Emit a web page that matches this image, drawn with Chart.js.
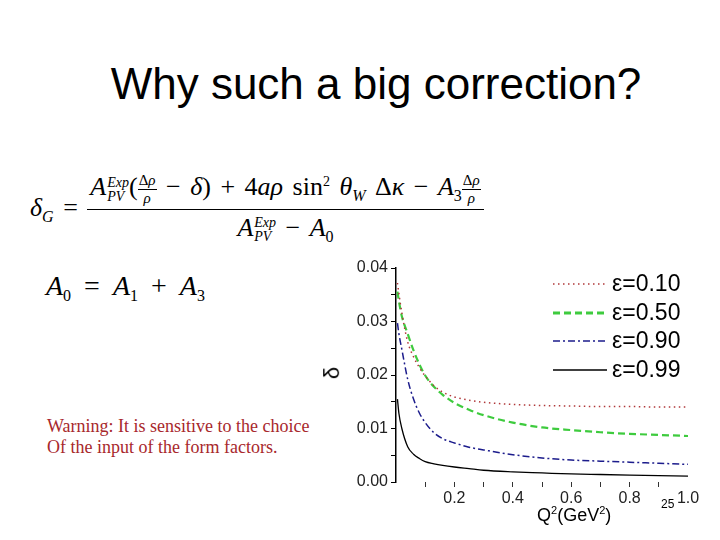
<!DOCTYPE html>
<html>
<head>
<meta charset="utf-8">
<script src="https://cdn.jsdelivr.net/npm/chart.js@4/dist/chart.umd.min.js"></script>
<style>
  body { margin: 0; background: #fff; }
  #slide { position: relative; width: 720px; height: 540px; overflow: hidden; background: #fff; }
  .abs { position: absolute; white-space: nowrap; }
  #title { left: 0; width: 752px; top: 59px; text-align: center; font: 44px "Liberation Sans", Arial, sans-serif; color: #000; }
  .math { font-family: "Liberation Serif", "Times New Roman", serif; font-size: 26px; color: #000; }
  .math i { font-style: italic; }
  .frac { display: inline-flex; flex-direction: column; align-items: center; vertical-align: middle; }
  .frac > .num { border-bottom: 1px solid #000; padding: 0 3px 2px 3px; }
  .frac > .den { padding-top: 3px; }
  .sfrac { font-size: 15px; word-spacing: 0; }
  .sfrac > .num { padding: 0 1px 0 1px; }
  .sfrac > .den { padding-top: 0; }
  .ss { display: inline-flex; flex-direction: column; font-size: 14px; line-height: 14px; vertical-align: middle; margin-left: 1px; }
  .sub { font-size: 16px; vertical-align: -6px; }
  #warn { left: 47px; top: 416px; font: 18px/21px "Liberation Serif", "Times New Roman", serif; color: #a8282c; }
  #ylab { left: 326px; top: 360px; font: 22px "Liberation Sans", Arial, sans-serif; transform: rotate(-90deg); }
  #xlab { left: 537px; top: 504px; font: 18px "Liberation Sans", Arial, sans-serif; }
  #xlab sup { font-size: 11px; vertical-align: 7px; }
  #pg { left: 661px; top: 497px; font: 12px "Liberation Sans", Arial, sans-serif; }
  #chartbox { position: absolute; left: 320px; top: 255px; width: 400px; height: 285px; }
</style>
</head>
<body>
<div id="slide">
  <div id="title" class="abs">Why such a big correction?</div>

  <div class="abs math" style="left:30px; top:172px; word-spacing:3px;">
    <span style="vertical-align:middle"><i>δ</i><span class="sub"><i>G</i></span> =</span>
    <span class="frac">
      <span class="num"><i>A</i><span class="ss"><i>Exp</i><i>PV</i></span>(<span class="frac sfrac"><span class="num">Δ<i>ρ</i></span><span class="den"><i>ρ</i></span></span> − <i>δ</i>) + 4<i>aρ</i> sin<sup style="font-size:14px">2</sup> <i>θ</i><span class="sub"><i>W</i></span> Δ<i>κ</i> − <i>A</i><span class="sub">3</span><span class="frac sfrac"><span class="num">Δ<i>ρ</i></span><span class="den"><i>ρ</i></span></span></span>
      <span class="den"><i>A</i><span class="ss"><i>Exp</i><i>PV</i></span> − <i>A</i><span class="sub">0</span></span>
    </span>
  </div>

  <div class="abs math" style="left:46px; top:270px; font-size:28px; word-spacing:6px;"><i>A</i><span class="sub">0</span> = <i>A</i><span class="sub">1</span> + <i>A</i><span class="sub">3</span></div>

  <div id="warn" class="abs">Warning: It is sensitive to the choice<br>Of the input of the form factors.</div>

  <div id="chartbox"><canvas id="deltaChart" width="400" height="285"></canvas></div>

  <div id="ylab" class="abs">δ</div>
  <div id="xlab" class="abs">Q<sup>2</sup>(GeV<sup>2</sup>)</div>
  <div id="pg" class="abs">25</div>
</div>

<script>
// Q^2 values (GeV^2) sampled along the curves
const q2 = [0.005, 0.01, 0.02, 0.04, 0.06, 0.08, 0.1, 0.13, 0.16, 0.2, 0.25, 0.3, 0.4, 0.5, 0.6, 0.7, 0.8, 0.9, 1.0];
// delta for each epsilon
const eps010 = [0.0372, 0.0352, 0.0316, 0.0262, 0.0234, 0.0214, 0.0198, 0.0180, 0.0168, 0.0159, 0.0153, 0.0149, 0.0145, 0.0143, 0.0142, 0.0141, 0.0141, 0.0140, 0.0140];
const eps050 = [0.0356, 0.0338, 0.0310, 0.0277, 0.0246, 0.0220, 0.0199, 0.0178, 0.0163, 0.0148, 0.0135, 0.0125, 0.0111, 0.0102, 0.0097, 0.0093, 0.0090, 0.0088, 0.0086];
const eps090 = [0.0297, 0.0277, 0.0248, 0.0192, 0.0155, 0.0129, 0.0111, 0.0092, 0.0081, 0.0073, 0.0065, 0.0060, 0.0051, 0.0045, 0.0041, 0.0039, 0.0037, 0.0035, 0.0033];
const eps099 = [0.0155, 0.0128, 0.0100, 0.0066, 0.0052, 0.0044, 0.0038, 0.0034, 0.0031, 0.0028, 0.0025, 0.0022, 0.0019, 0.0017, 0.0015, 0.0014, 0.0013, 0.0012, 0.0011];
const seriesLabels = ['ε=0.10', 'ε=0.50', 'ε=0.90', 'ε=0.99'];
const xTickLabels = [0.2, 0.4, 0.6, 0.8, 1.0];
const yTickLabels = [0.00, 0.01, 0.02, 0.03, 0.04];

const lineColors = ['#b0383a', '#3ecb3e', '#1c1c8c', '#000000'];
const lineDashes = [[1.5, 3.5], [7, 4], [7, 3, 2, 3], []];
const lineWidths = [1.5, 2.2, 1.5, 1.3];

const toPoints = (ys) => q2.map((x, i) => ({ x: x, y: ys[i] }));

const datasets = [eps010, eps050, eps090, eps099].map((ys, i) => ({
    label: seriesLabels[i],
    data: toPoints(ys),
    borderColor: lineColors[i],
    borderDash: lineDashes[i],
    borderWidth: lineWidths[i],
    pointRadius: 0,
    fill: false,
    cubicInterpolationMode: 'monotone',
}));

// legend drawn in the upper right of the plot, like the original
const legendPlugin = {
    id: 'cornerLegend',
    afterDraw(chart) {
        const ctx = chart.ctx;
        const area = chart.chartArea;
        const rowY = [29, 58, 86, 115];
        ctx.save();
        chart.data.datasets.forEach((ds, i) => {
            const y = rowY[i];
            ctx.beginPath();
            ctx.setLineDash(ds.borderDash);
            ctx.lineWidth = i === 1 ? 3 : ds.borderWidth;
            ctx.strokeStyle = ds.borderColor;
            ctx.moveTo(area.right - 135, y);
            ctx.lineTo(area.right - 81, y);
            ctx.stroke();
            ctx.setLineDash([]);
            ctx.fillStyle = '#000';
            ctx.font = '23px "Liberation Sans", Arial, sans-serif';
            ctx.textBaseline = 'middle';
            ctx.fillText(ds.label, area.right - 76, y + 1);
        });
        ctx.restore();
    }
};

const ctx = document.getElementById('deltaChart').getContext('2d');
const deltaChart = new Chart(ctx, {
    type: 'line',
    data: { datasets: datasets },
    options: {
        responsive: false,
        animation: false,
        layout: { padding: { top: 13, right: 32, bottom: 0, left: 0 } },
        scales: {
            x: {
                type: 'linear',
                min: 0,
                max: 1.0,
                border: { display: false },
                grid: {
                    drawOnChartArea: false,
                    drawTicks: true,
                    tickLength: 5,
                    color: (c) => (c.tick && c.tick.value > 0.001 && c.tick.value < 0.999) ? '#333' : 'rgba(0,0,0,0)',
                },
                ticks: {
                    stepSize: 0.1,
                    padding: 2,
                    maxRotation: 0,
                    autoSkip: false,
                    color: '#222',
                    font: { family: '"Liberation Sans", Arial, sans-serif', size: 16 },
                    callback: (v) => {
                        const hit = xTickLabels.find(t => Math.abs(t - v) < 1e-6);
                        return hit !== undefined ? hit.toFixed(1) : '';
                    }
                },
                afterFit: (scale) => { scale.height = 58; }
            },
            y: {
                min: 0,
                max: 0.04,
                border: { display: true, color: '#000', width: 1.5 },
                grid: {
                    drawOnChartArea: false,
                    drawTicks: true,
                    tickLength: 5,
                    color: '#000',
                },
                ticks: {
                    stepSize: 0.005,
                    padding: 3,
                    autoSkip: false,
                    color: '#222',
                    font: { family: '"Liberation Sans", Arial, sans-serif', size: 16 },
                    callback: (v) => {
                        const hit = yTickLabels.find(t => Math.abs(t - v) < 1e-6);
                        return hit !== undefined ? hit.toFixed(2) : '';
                    }
                },
                afterFit: (scale) => { scale.width = 76; }
            }
        },
        plugins: {
            legend: { display: false },
            tooltip: { enabled: false }
        }
    },
    plugins: [legendPlugin]
});
</script>
</body>
</html>
